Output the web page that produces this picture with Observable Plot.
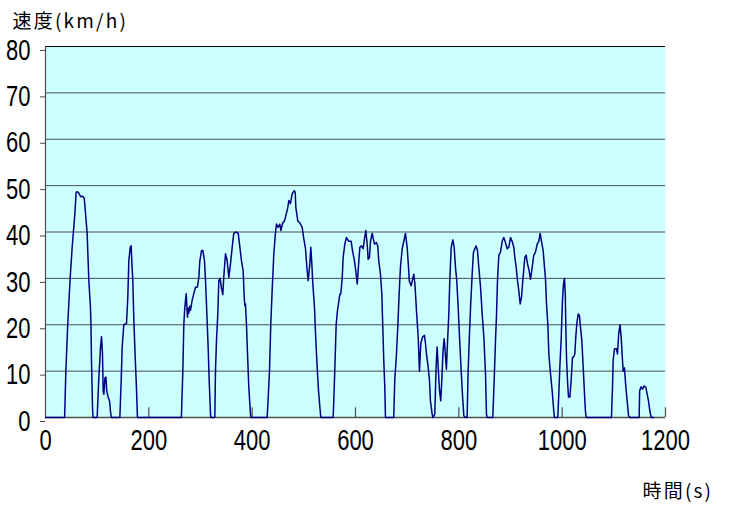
<!DOCTYPE html>
<html>
<head>
<meta charset="utf-8">
<script src="https://cdn.jsdelivr.net/npm/d3@7"></script>
<script src="https://cdn.jsdelivr.net/npm/@observablehq/plot@0.6"></script>
<style>
  body { margin: 0; background: #fff; }
  g[aria-label="x-axis tick label"] text,
  g[aria-label="y-axis tick label"] text {
    font-family: "Liberation Sans Narrow", "Arial Narrow", "Liberation Sans", sans-serif;
  }
</style>
</head>
<body>
<div id="chart"></div>
<script>
// Time (s) and speed (km/h)
const times = [0,37,39.4,43,47.7,51.6,54,56.8,59.4,62,65,68,72,75,76,80.6,83.9,87,88,89,91,92,
100,103,106.5,108.4,110.3,111.6,113,115,117,118.5,121,124,126,127.7,
143.9,146.5,148.4,151.6,156.8,159.3,161.3,164,165.8,167,169,171,173.6,176,178,
263,265.8,267.7,269.7,272.3,274.8,276,277.4,279,280.6,283.9,287,290.3,294,296.8,298.7,302,304.6,307.7,309.7,312.3,314.8,316.8,319.4,320,
327.7,329,331,333.5,335.5,338,340.6,343.2,345,348.4,351.6,354.8,358,361.3,364.4,368,373,375.5,379.3,382.6,384.6,385.8,387,389,391,393.5,396.8,398,
429,431,433.5,436,438.7,441.9,445,447,450,453.5,455.6,459.3,462.6,465.8,469,471,474,477.4,481.3,483.3,484.5,488.3,492,496.8,500,503.2,506.5,508.4,511.6,513.5,515.5,517.4,520.6,523.2,525.8,528.4,532.2,533.4,
556.8,559.3,562.6,565,567.7,569.6,571.6,574.2,576.1,579.3,582.6,587,591.6,594.2,598,601.3,603.3,606.5,608.4,611.6,614.8,617.4,620,622.6,624.5,627,629,632.3,634,636.7,640.6,643.1,645,648.3,650.9,652.8,654.7,656.7,658,
674,676,679.3,682,684.5,687,690.4,693.5,696.7,700,702.6,704,707.7,710,712.8,715,718,721.3,723.8,726.4,730,733.5,735.4,737.4,740.6,743.2,745,748.4,750,
753.5,756,758,760,762.5,765,767,769.5,771.6,774,776,778,780.6,782.5,785.2,788.4,791,793.5,796,798.7,801.3,804.5,807,809.6,812.9,
816,818,820.6,823,825.8,828.3,831,833.6,836,838.7,842,845.2,848.4,851.6,853.5,854.8,
865.7,868.4,871,873,874.8,877.4,880.6,883.9,887,890.3,893.5,896.7,900,903.2,906.4,908.4,911,913.5,916,918.7,921.3,923.8,927.7,930.3,932.9,935.5,938.7,942,945,948.3,951.6,954.8,957.4,960,963.2,965.8,967.7,969.7,972.3,974.2,977.4,980.6,983.8,985,
991.5,993.5,995.5,998,999,1000.6,1002.6,1004.5,1006,1007,1008.4,1010.3,1012.3,1015,1017.4,1020,1022,1024.5,1026.4,1028.4,1031,1033.5,1035.4,1038,1040,1042.6,1045,1046.5,
1095.4,1097.4,1098.7,1101.3,1105,1107,1109.5,1112,1114.2,1116,1118,1120.6,1123,1125.8,1128.4,1131,
1149,1150,1152.9,1155.5,1158.7,1162,1164.5,1167.1,1169.7,1172.4,1177];
const speeds = [0,0,10,20,30,36.7,40,43.9,48.6,48.7,48.3,47.6,47.7,47.3,46,39.7,29.5,23.8,20,12.3,2.2,0,
0,8,15.2,17.4,13.7,5.8,5,8.5,8.7,5.8,4.5,3.5,1,0,
0,8,15.2,20,20.3,25.9,33.8,36.7,37,33.8,29.5,20.9,13,6.5,0,
0,10,20,23.8,26.7,21.6,23.5,22.5,24,23.1,25.3,26.7,28.1,28.1,30.2,33.8,36,36,33.8,29.5,22.3,15.2,8,0.7,0,
0,10,16.7,22.3,29.5,30,27.9,26.5,30.2,35.3,33.8,30.2,33.1,36.7,39.7,40,39.7,37.4,33.8,31.6,25.9,24.1,24.5,20,13.7,6.5,0.7,0,
0,4.2,10,20,27.4,35.3,39.7,41.7,41,41.7,40.3,42,42.4,43.8,45.3,46.8,46.1,48.2,48.9,48.6,45.3,42.4,42,41,38.5,36.4,31.6,29.5,33.1,36.7,33.1,28.8,23.8,16.7,10.9,5.8,0.7,0,
0,8,20,23,25,26.5,26.7,30,34.5,37.4,38.8,38,38,36,33.8,30.9,28.8,33.8,36.7,37,36.4,38.5,40.3,37.4,34.1,34.5,38,39.7,38.8,37.4,37.7,37,33.8,30.9,26.7,19.6,12.4,6.5,0,
0,8,13.7,20,26.7,32.4,36.4,38,39.7,36.7,32.4,29.5,28.4,29.5,30.9,28.8,23.1,17.4,10,16,17.4,17.7,16,13.7,10.9,8,3.6,0.7,0,
0.7,10.9,15.2,10.9,6,3.6,8,14.5,17,13.5,10.4,16,22.3,29.5,36.7,38.3,36.7,32.4,29.5,23.8,17.4,10.2,5,0.4,0,
0,10,18.1,24.5,30.9,35.6,36.4,37,36,32.4,28.1,22.3,17.4,9.5,0.7,0,
0,8,16.7,22.3,29.5,35,35.6,38,38.8,37.7,36.4,36.7,38.8,38,36.7,34.5,32.4,29.5,27.4,24.5,25.9,29.5,34.5,35,33.1,32,29.8,32.4,35,35.6,37.4,38,39.7,38,36,32.4,30,24.5,20,13.7,9.5,5.8,1.4,0,
0,5,10.9,16.7,20,25.3,28.8,30,26.7,20,13,8,4.4,4.4,8,13,13,13.7,17.4,20.3,22.3,22,19.6,16.7,12.4,6.5,1.4,0,
0,6.5,12.4,14.8,14.8,13.7,18.1,20,17.4,13.7,10,10.7,6.9,3.6,0.4,0,
0,5.8,6.6,6.1,6.8,6.5,5,3.6,1.4,0,0];

const xTicks = [0, 200, 400, 600, 800, 1000, 1200];
const yTicks = [0, 10, 20, 30, 40, 50, 60, 70, 80];
const innerXTicks = [200, 400, 600, 800, 1000, 1200];
const gridLevels = [10, 20, 30, 40, 50, 60, 70];
const yTitle = "速度(km/h)";
const xTitle = "時間(s)";

const data = times.map((t, i) => ({t, v: speeds[i]}));

const chart = Plot.plot({
  width: 736,
  height: 506,
  marginLeft: 45,
  marginRight: 71,
  marginTop: 46,
  marginBottom: 89,
  style: {fontFamily: "Liberation Sans", background: "#fff", overflow: "visible"},
  x: {domain: [0, 1200], ticks: xTicks},
  y: {domain: [0, 80], ticks: yTicks},
  marks: [
    Plot.frame({fill: "#ccffff", stroke: null}),
    Plot.ruleY(gridLevels, {stroke: "#4d4d4d", strokeWidth: 1}),
    Plot.ruleY([80], {stroke: "#000", strokeWidth: 1}),
    Plot.ruleX([0], {stroke: "#4d4d4d", strokeWidth: 1.2}),
    Plot.ruleY([0], {stroke: "#4d4d4d", strokeWidth: 1.6}),
    Plot.ruleX(innerXTicks, {y1: 0, y2: 2.1, stroke: "#4d4d4d", strokeWidth: 1.2}),
    Plot.axisY({ticks: yTicks, tickSize: 5, tickPadding: 10, fontSize: 22, dy: 4, stroke: "#4d4d4d", fill: "#000", label: null, tickFormat: d => String(d)}),
    Plot.axisX({ticks: xTicks, tickSize: 0, tickPadding: 12, fontSize: 22, fill: "#000", label: null, tickFormat: d => String(d)}),
    Plot.line(data, {x: "t", y: "v", stroke: "#000080", strokeWidth: 1.5}),
    Plot.text([yTitle], {frameAnchor: "top-left", text: d => d, dx: -33, dy: -32, textAnchor: "start", fontSize: 19, fontFamily: "Noto Sans CJK JP", fill: "#000"}),
    Plot.text([xTitle], {frameAnchor: "bottom-right", text: d => d, dx: -23, dy: 80, textAnchor: "start", fontSize: 19, fontFamily: "Noto Sans CJK JP", fill: "#000"})
  ]
});
// stretch tick labels vertically like the reference's tall, narrow digits
chart.querySelectorAll('g[aria-label="x-axis tick label"] text, g[aria-label="y-axis tick label"] text').forEach(el => {
  const tr = el.getAttribute("transform") || "";
  el.setAttribute("transform", tr + " scale(1,1.3)");
});
// wider letter spacing for the two axis titles
chart.querySelectorAll("text").forEach(el => {
  if (el.textContent === yTitle || el.textContent === xTitle) {
    el.setAttribute("letter-spacing", "2.2");
    el.style.letterSpacing = "2.2px";
  }
});
document.getElementById("chart").appendChild(chart);
</script>
</body>
</html>
